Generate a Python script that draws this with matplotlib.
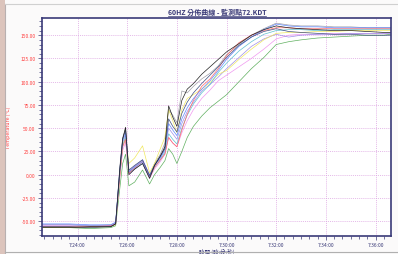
import matplotlib.pyplot as plt
from matplotlib.ticker import MultipleLocator, FuncFormatter
from matplotlib.patches import Rectangle
from matplotlib.lines import Line2D

plt.rcParams['font.family'] = ['Noto Sans CJK TC', 'DejaVu Sans']

# --- data ---
times = ['7:22:34', '7:23:40', '7:24:30', '7:25:20', '7:25:32', '7:25:42', '7:25:49',
         '7:25:56', '7:26:04', '7:26:18', '7:26:37', '7:26:54', '7:27:06', '7:27:20',
         '7:27:31', '7:27:40', '7:27:50', '7:28:00', '7:28:12', '7:28:25', '7:28:40',
         '7:29:00', '7:29:20', '7:29:40', '7:30:00', '7:30:30', '7:31:00', '7:31:30',
         '7:32:00', '7:32:30', '7:33:00', '7:33:40', '7:34:20', '7:35:00', '7:35:40',
         '7:36:20', '7:36:37']

black = [-57, -57, -56, -56, -53, 5, 38, 51, 0, 6, 12, -4, 10, 20, 30, 74, 62, 52, 80, 92, 98,
         108, 116, 124, 132, 141, 150, 156, 160, 158, 157, 156, 155, 155, 154, 153, 153]
gray = [-54, -54, -55, -54, -52, 8, 40, 50, 3, 9, 15, -2, 12, 22, 34, 70, 64, 56, 90, 88, 95,
        103, 109, 117, 129, 140, 150, 157, 163, 161, 160, 160, 159, 159, 158, 158, 158]
red = [-56, -56, -56, -55, -53, -2, 30, 38, 2, 7, 14, -3, 8, 16, 22, 40, 34, 30, 48, 65, 80,
       95, 103, 114, 128, 142, 150, 155, 158, 158, 157, 157, 157, 157, 157, 157, 157]
yellow = [-57, -57, -57, -56, -54, 0, 32, 40, 12, 18, 31, 2, 12, 28, 40, 70, 58, 45, 70, 82, 86,
          92, 99, 108, 112, 124, 135, 145, 152, 153, 153, 154, 154, 155, 155, 155, 155]
green = [-57, -57, -58, -57, -55, -15, 12, 22, -12, -8, 5, -10, 0, 8, 15, 28, 22, 12, 25, 40, 52,
         63, 72, 79, 86, 100, 114, 126, 140, 143, 145, 147, 148, 149, 150, 150, 151]
pink = [-55, -55, -56, -55, -53, -4, 26, 35, 0, 6, 12, -4, 6, 14, 22, 40, 34, 30, 45, 58, 70,
        82, 91, 101, 107, 116, 125, 135, 146, 150, 151, 151, 152, 152, 152, 152, 152]
blue = [-53, -53, -54, -54, -51, 4, 36, 45, 3, 8, 14, -2, 10, 18, 28, 55, 48, 42, 60, 72, 82,
        92, 101, 112, 124, 138, 148, 156, 162, 160, 159, 159, 158, 158, 158, 158, 158]
cyan = [-56, -56, -56, -56, -53, 0, 31, 40, 2, 6, 12, -3, 8, 16, 24, 44, 38, 33, 50, 64, 76,
        88, 97, 110, 120, 133, 143, 151, 155, 156, 156, 155, 156, 156, 156, 156, 156]
purple = [-54, -54, -55, -55, -52, 2, 34, 42, 4, 9, 16, 0, 10, 18, 26, 50, 44, 38, 55, 68, 78,
          90, 97, 105, 114, 126, 138, 146, 151, 148, 150, 151, 151, 152, 152, 152, 152]
navy = [-56, -56, -57, -56, -53, 6, 39, 48, 5, 10, 16, -1, 10, 20, 28, 60, 52, 46, 66, 78, 88,
        98, 107, 116, 126, 139, 148, 154, 157, 154, 153, 152, 151, 151, 150, 150, 150]

series = [(gray, '#a0a0a8'), (green, '#60b060'), (pink, '#f098f0'), (purple, '#a090e8'),
          (yellow, '#f0e860'), (cyan, '#60c0d0'), (red, '#ff6868'), (blue, '#6088ff'),
          (navy, '#405080'), (black, '#202020')]


def to_sec(s):
    h, m, sec = [int(v) for v in s.split(':')]
    return h * 3600 + m * 60 + sec


def fmt_time(v, pos):
    v = int(round(v))
    return f'{v // 3600}:{(v % 3600) // 60:02d}:{v % 60:02d}'


t = [to_sec(s) for s in times]

fig = plt.figure(figsize=(3.98, 2.55), dpi=100)
fig.patch.set_facecolor('#fbfafa')

# window frame bits
fig.patches.append(Rectangle((0, 0), 0.013, 1, transform=fig.transFigure,
                             facecolor='#dcc4bc', edgecolor='none'))
fig.add_artist(Line2D([0.013, 0.013], [0, 0.98], transform=fig.transFigure, color='#b8b0b0', lw=0.8))
fig.add_artist(Line2D([0.013, 1], [0.98, 0.98], transform=fig.transFigure, color='#d0d0d0', lw=0.8))
fig.add_artist(Line2D([0.013, 1], [0.008, 0.008], transform=fig.transFigure, color='#b0b0b0', lw=0.8))

ax = fig.add_axes([0.1055, 0.0706, 0.8765, 0.853])
ax.set_facecolor('white')

for vals, c in series:
    ax.plot(t, vals, color=c, lw=0.5)

ax.set_xlim(to_sec('7:22:34'), to_sec('7:36:37'))
ax.set_ylim(-66, 168)

ax.xaxis.set_major_locator(MultipleLocator(120))
ax.xaxis.set_minor_locator(MultipleLocator(20))
ax.xaxis.set_major_formatter(FuncFormatter(fmt_time))
ax.yaxis.set_major_locator(MultipleLocator(25))
ax.yaxis.set_minor_locator(MultipleLocator(5))
ax.yaxis.set_major_formatter(FuncFormatter(lambda v, p: f'{v:.2f}'))

ax.grid(True, which='major', color='#dca0e0', linestyle=(0, (1.5, 1.5)), lw=0.5)

navy_c = '#3a3a78'
for s in ax.spines.values():
    s.set_color(navy_c)
    s.set_linewidth(1.2)
ax.tick_params(which='both', direction='out', color=navy_c, width=0.5)
ax.tick_params(which='major', length=3, pad=1.5)
ax.tick_params(which='minor', length=2)
ax.tick_params(axis='y', labelsize=3.6, labelcolor='#ff4040')
ax.tick_params(axis='x', labelsize=3.6, labelcolor=navy_c)

ax.set_ylabel('Temperature (°C)', color='#ff4040', fontsize=3.8, labelpad=7)
ax.set_xlabel('時間 (時:分:秒)', color=navy_c, fontsize=4, labelpad=0.5)

title = fig.text(0.545, 0.952, '60HZ 分佈曲線 - 監測點72.KDT', ha='center', va='center',
                 fontsize=5, color=navy_c, fontweight='bold')
fig.canvas.draw()
bb = title.get_window_extent().transformed(fig.transFigure.inverted())
fig.add_artist(Line2D([bb.x0, bb.x1], [bb.y0 - 0.004, bb.y0 - 0.004],
                      transform=fig.transFigure, color=navy_c, lw=0.5))

fig.savefig('out.png', dpi=100, facecolor=fig.get_facecolor())
